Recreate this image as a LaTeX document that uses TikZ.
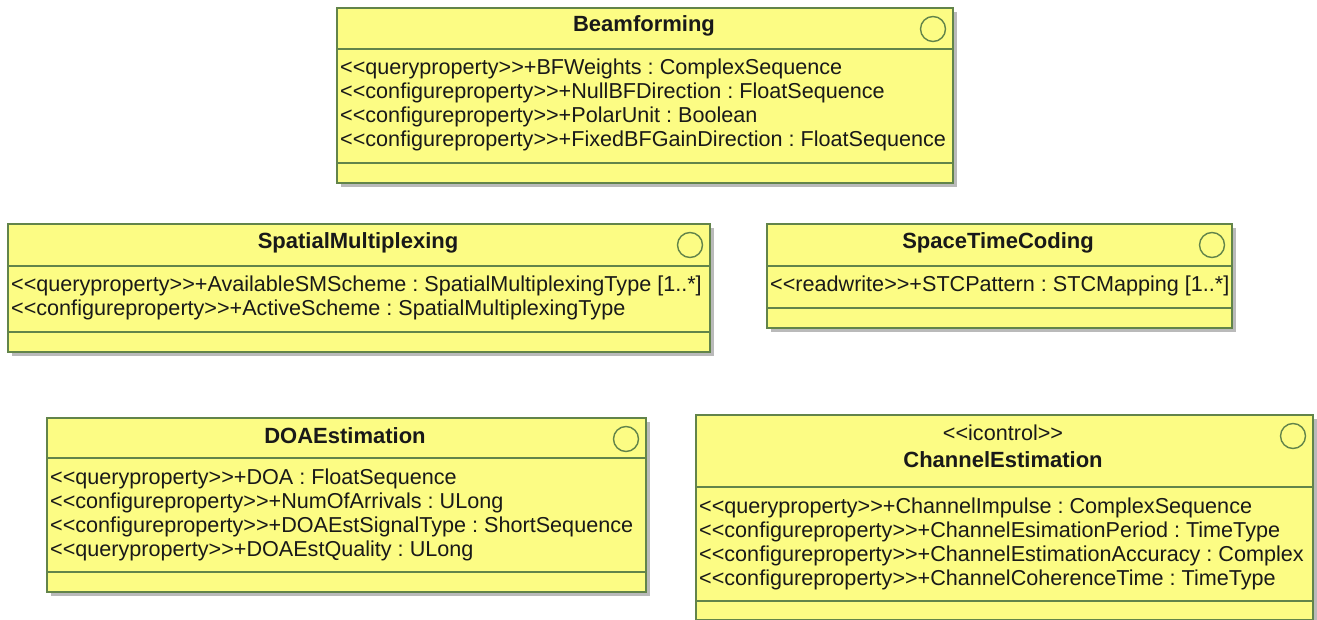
\documentclass[tikz,border=0pt]{standalone}
\usepackage{fontspec}
\setmainfont{Liberation Sans}
\usetikzlibrary{shadows}
\frenchspacing

\definecolor{classfill}{RGB}{252,252,132}
\definecolor{classline}{RGB}{98,132,74}
\definecolor{classtext}{RGB}{25,25,25}

\tikzset{
  classbox/.style={draw=classline, line width=1.8pt, fill=classfill, rectangle,
    anchor=north west, inner sep=0pt,
    drop shadow={shadow xshift=4pt, shadow yshift=-4pt, fill=black!45, opacity=0.6}},
  divider/.style={draw=classline, line width=1.4pt},
  iface/.style={circle, draw=classline, line width=1.4pt, fill=classfill,
    minimum size=25pt, inner sep=0pt},
  attr/.style={anchor=base west, inner sep=0pt, text=classtext,
    font=\fontsize{21.6pt}{24pt}\selectfont},
  title/.style={anchor=base, inner sep=0pt, text=classtext,
    font=\fontsize{22pt}{24pt}\selectfont\bfseries},
  stereo/.style={anchor=base, inner sep=0pt, text=classtext,
    font=\fontsize{21.6pt}{24pt}\selectfont},
}

\begin{document}
\begin{tikzpicture}[x=1pt,y=-1pt]
\useasboundingbox (0,0) rectangle (1317,620);

% ---------- Beamforming ----------
\node[classbox, minimum width=616pt, minimum height=175pt] (bf) at (336,7) {};
\draw[divider] (bf.north west |- 0,49) -- (bf.north east |- 0,49);
\draw[divider] (bf.north west |- 0,163) -- (bf.north east |- 0,163);
\node[iface] (bfi) at (933,29) {};
\node[title] (bft) at (644,32) {Beamforming};
\node[attr] (bfa1) at (340,75) {<{}<queryproperty>{}>+BFWeights : ComplexSequence};
\node[attr] (bfa2) at (340,99) {<{}<configureproperty>{}>+NullBFDirection : FloatSequence};
\node[attr] (bfa3) at (340,123) {<{}<configureproperty>{}>+PolarUnit : Boolean};
\node[attr] (bfa4) at (340,147) {<{}<configureproperty>{}>+FixedBFGainDirection : FloatSequence};

% ---------- SpatialMultiplexing ----------
\node[classbox, minimum width=702pt, minimum height=128pt] (sm) at (7,223) {};
\draw[divider] (sm.north west |- 0,266) -- (sm.north east |- 0,266);
\draw[divider] (sm.north west |- 0,332) -- (sm.north east |- 0,332);
\node[iface] (smi) at (690,245) {};
\node[title] (smt) at (358,249) {SpatialMultiplexing};
\node[attr] (sma1) at (11,292) {<{}<queryproperty>{}>+AvailableSMScheme : SpatialMultiplexingType [1..*]};
\node[attr] (sma2) at (11,316) {<{}<configureproperty>{}>+ActiveScheme : SpatialMultiplexingType};

% ---------- SpaceTimeCoding ----------
\node[classbox, minimum width=465pt, minimum height=104pt] (stc) at (766,223) {};
\draw[divider] (stc.north west |- 0,266) -- (stc.north east |- 0,266);
\draw[divider] (stc.north west |- 0,308) -- (stc.north east |- 0,308);
\node[iface] (stci) at (1212,245) {};
\node[title] (stct) at (998,249) {SpaceTimeCoding};
\node[attr] (stca1) at (770,292) {<{}<readwrite>{}>+STCPattern : STCMapping [1..*]};

% ---------- DOAEstimation ----------
\node[classbox, minimum width=599pt, minimum height=174pt] (doa) at (46,417) {};
\draw[divider] (doa.north west |- 0,458) -- (doa.north east |- 0,458);
\draw[divider] (doa.north west |- 0,572) -- (doa.north east |- 0,572);
\node[iface] (doai) at (626,439) {};
\node[title] (doat) at (345,443) {DOAEstimation};
\node[attr] (doaa1) at (50,484) {<{}<queryproperty>{}>+DOA : FloatSequence};
\node[attr] (doaa2) at (50,508) {<{}<configureproperty>{}>+NumOfArrivals : ULong};
\node[attr] (doaa3) at (50,532) {<{}<configureproperty>{}>+DOAEstSignalType : ShortSequence};
\node[attr] (doaa4) at (50,556) {<{}<queryproperty>{}>+DOAEstQuality : ULong};

% ---------- ChannelEstimation ----------
\node[classbox, minimum width=617pt, minimum height=205pt] (ce) at (695,414) {};
\draw[divider] (ce.north west |- 0,487) -- (ce.north east |- 0,487);
\draw[divider] (ce.north west |- 0,601) -- (ce.north east |- 0,601);
\node[iface] (cei) at (1293,436) {};
\node[stereo] (ces) at (1003,440) {<{}<icontrol>{}>};
\node[title] (cet) at (1003,467) {ChannelEstimation};
\node[attr] (cea1) at (699,513) {<{}<queryproperty>{}>+ChannelImpulse : ComplexSequence};
\node[attr] (cea2) at (699,537) {<{}<configureproperty>{}>+ChannelEsimationPeriod : TimeType};
\node[attr] (cea3) at (699,561) {<{}<configureproperty>{}>+ChannelEstimationAccuracy : Complex};
\node[attr] (cea4) at (699,585) {<{}<configureproperty>{}>+ChannelCoherenceTime : TimeType};
\end{tikzpicture}
\end{document}
